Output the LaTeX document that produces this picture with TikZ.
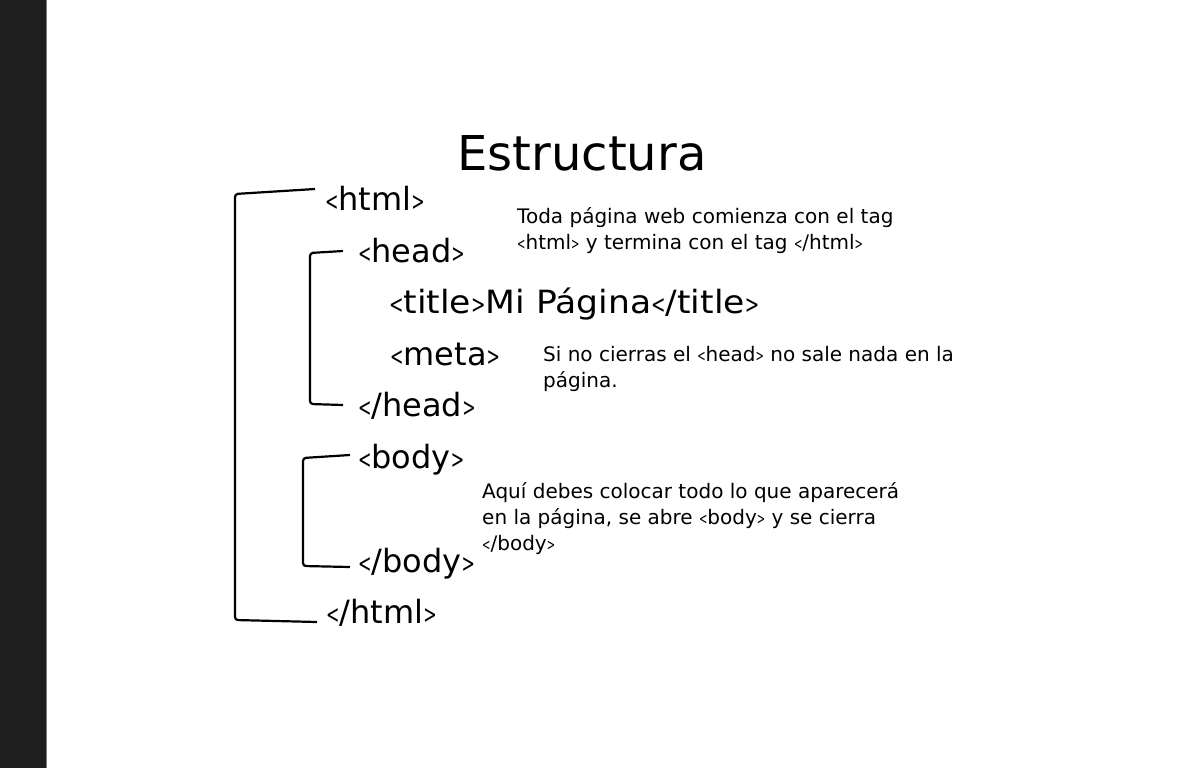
\documentclass[tikz,border=0pt]{standalone}
\usepackage{fontspec}
\usepackage{graphicx}
\setmainfont{DejaVu Sans}
\newcommand\ltag{\scalebox{0.5}[0.8]{<}}
\newcommand\gtag{\scalebox{0.5}[0.8]{>}}
\definecolor{strip}{HTML}{1E1E1E}
\definecolor{stripedge}{HTML}{7A7A7A}
\tikzset{
  tag/.style={anchor=base west, inner sep=0pt, font=\fontsize{32}{32}\selectfont},
  note/.style={anchor=base west, inner sep=0pt, align=left, font=\fontsize{20}{26}\selectfont},
  brace/.style={line width=2.2pt, rounded corners=3pt, black}
}
\begin{document}
\begin{tikzpicture}[x=1pt,y=-1pt]
\useasboundingbox (0,0) rectangle (1200,768);
\fill[white] (0,0) rectangle (1200,768);
\fill[strip] (0,0) rectangle (46,768);
\draw[stripedge, line width=1.5pt] (46.5,0) -- (46.5,768);

\node[anchor=base, inner sep=0pt, font=\fontsize{48}{48}\selectfont] (title) at (582,170) {Estructura};

\node[tag] (html) at (325,210) {\ltag html\gtag};
\node[tag] (head) at (358,262) {\ltag head\gtag};
\node[tag] (ttl) at (389,313) {\scalebox{1.08}[1]{\ltag title\gtag Mi Página\ltag/title\gtag}};
\node[tag] (meta) at (390,365) {\ltag meta\gtag};
\node[tag] (headc) at (358,416) {\ltag/head\gtag};
\node[tag] (body) at (358,468) {\ltag body\gtag};
\node[tag] (bodyc) at (358,572) {\ltag/body\gtag};
\node[tag] (htmlc) at (326,623) {\ltag/html\gtag};

\node[note] (n1) at (517,249) {Toda página web comienza con el tag\\\ltag html\gtag{} y termina con el tag \ltag/html\gtag};
\node[note] (n2) at (543,387) {Si no cierras el \ltag head\gtag{} no sale nada en la\\página.};
\node[note] (n3) at (482,550) {Aquí debes colocar todo lo que aparecerá\\en la página, se abre \ltag body\gtag{} y se cierra\\\ltag/body\gtag};

\coordinate (a1) at (315,189);
\coordinate (a2) at (235,194);
\coordinate (a3) at (235,620);
\coordinate (a4) at (317,622);
\draw[brace] (a1) -- (a2) -- (a3) -- (a4);

\coordinate (b1) at (343,251);
\coordinate (b2) at (310,253);
\coordinate (b3) at (310,404);
\coordinate (b4) at (343,405);
\draw[brace] (b1) -- (b2) -- (b3) -- (b4);

\coordinate (c1) at (350,455);
\coordinate (c2) at (303,458);
\coordinate (c3) at (303,566);
\coordinate (c4) at (350,567);
\draw[brace] (c1) -- (c2) -- (c3) -- (c4);
\end{tikzpicture}
\end{document}
